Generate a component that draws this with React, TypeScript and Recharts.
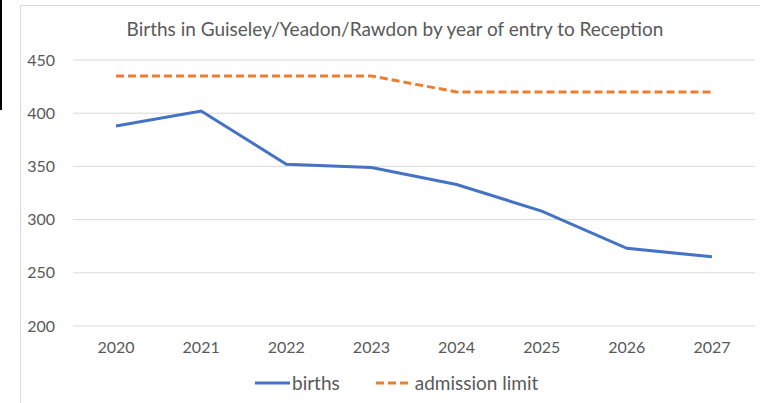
import React from "react";
import { LineChart, Line, XAxis, YAxis, CartesianGrid, Legend } from "recharts";

const years = ["2020", "2021", "2022", "2023", "2024", "2025", "2026", "2027"];
const births = [388, 402, 352, 349, 333, 308, 273, 265];
const admissionLimit = [435, 435, 435, 435, 420, 420, 420, 420];
const yTicks = [200, 250, 300, 350, 400, 450];
const title = "Births in Guiseley/Yeadon/Rawdon by year of entry to Reception";

const data = years.map((y, i) => ({ year: y, births: births[i], limit: admissionLimit[i] }));

const FONT = "Lato, 'Open Sans', sans-serif";
const TXT = "#595959";

const LegendContent = () => (
  <div style={{ display: "flex", justifyContent: "flex-start", alignItems: "center", fontFamily: FONT, fontSize: 19, color: TXT, paddingLeft: 255, lineHeight: "22px" }}>
    <svg width={35} height={10} style={{ marginRight: 2 }}>
      <line x1={0} y1={5} x2={35} y2={5} stroke="#4472C4" strokeWidth={3} />
    </svg>
    <span style={{ marginRight: 36 }}>births</span>
    <svg width={33} height={10} style={{ marginRight: 6 }}>
      <line x1={0} y1={5} x2={33} y2={5} stroke="#ED7D31" strokeWidth={3} strokeDasharray="8 4" />
    </svg>
    <span>admission limit</span>
  </div>
);

export default function App() {
  return (
    <div style={{ position: "absolute", left: 0, top: 0, width: 760, height: 403, overflow: "hidden", background: "#fff" }}>
      <div style={{ position: "absolute", left: 0, top: 0, width: 2, height: 110, background: "#000" }} />
      <div style={{ position: "absolute", left: 20, top: 5, width: 800, height: 500, border: "1px solid #d9d9d9" }} />
      <div style={{ position: "absolute", left: 0, top: 17, width: 790, textAlign: "center", fontFamily: FONT, fontSize: 19, color: TXT }}>
        {title}
      </div>
      <div style={{ position: "absolute", left: 0, top: 0 }}>
        <LineChart width={760} height={403} data={data} margin={{ top: 60, right: 5, left: 0, bottom: 15 }}>
          <CartesianGrid vertical={false} stroke="#d9d9d9" strokeWidth={1} />
          <XAxis dataKey="year" axisLine={false} tickLine={false} tickSize={0} tickMargin={16} height={40}
            padding={{ left: 43, right: 43 }}
            tick={{ fill: TXT, fontSize: 16, fontFamily: FONT }} />
          <YAxis domain={[200, 450]} ticks={yTicks} axisLine={false} tickLine={false} tickSize={0} tickMargin={18} width={73}
            tick={{ fill: TXT, fontSize: 16, fontFamily: FONT }} />
          <Legend verticalAlign="bottom" content={<LegendContent />} wrapperStyle={{ bottom: 9, left: 0 }} />
          <Line dataKey="births" stroke="#4472C4" strokeWidth={3} dot={false} isAnimationActive={false} />
          <Line dataKey="limit" name="admission limit" stroke="#ED7D31" strokeWidth={3} strokeDasharray="8 4" dot={false} isAnimationActive={false} />
        </LineChart>
      </div>
    </div>
  );
}
